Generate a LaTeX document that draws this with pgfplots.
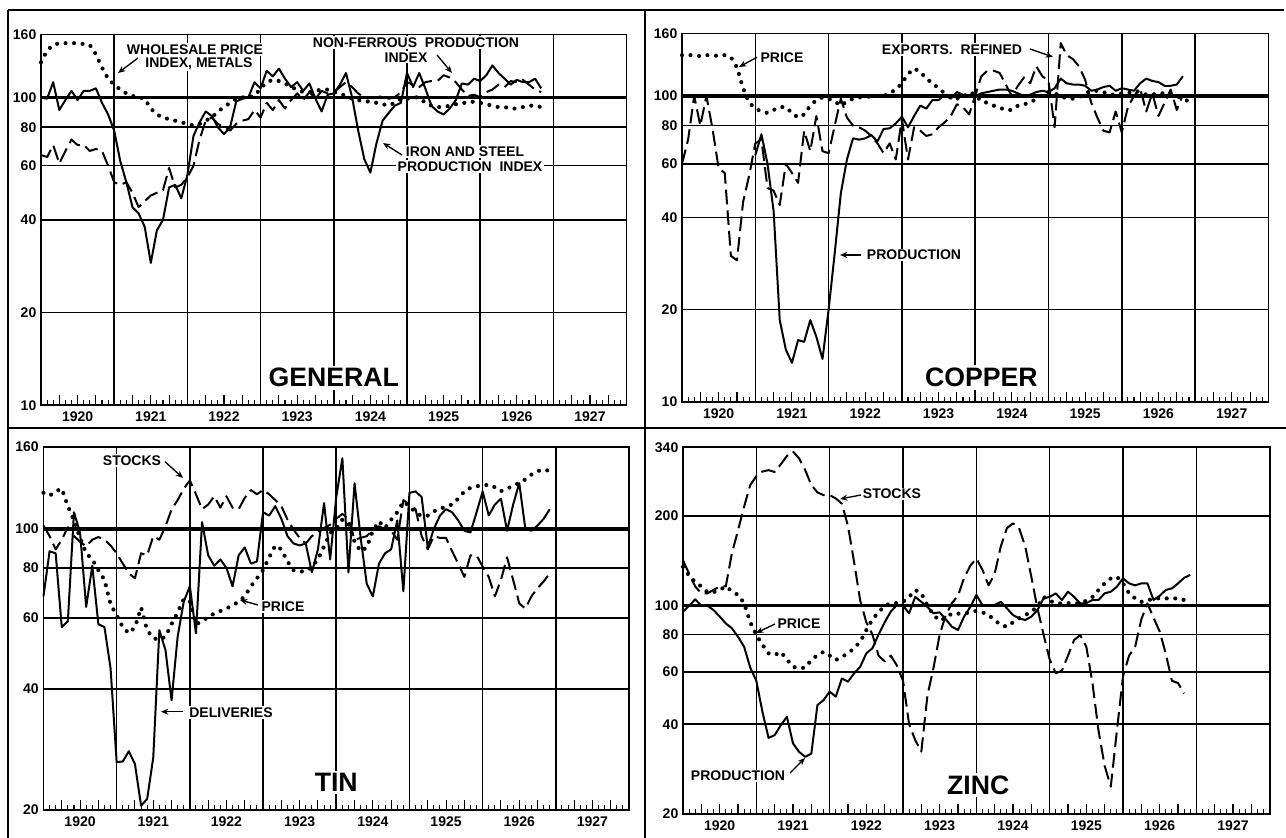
\documentclass[border=0pt]{standalone}
\usepackage{fontspec}
\setmainfont{Liberation Sans}
\usepackage{pgfplots}
\pgfplotsset{compat=1.18}
\usepackage{pgfplotstable}
\usetikzlibrary{arrows.meta}

% month index m: 0 = Jan 1920
\pgfplotstableread{
m iron nonf price
0 100 65 130
1 99 64 142
2 112 70 148
3 91 61 150
4 98 67 150
5 105 73 150
6 98 70 150
7 105 70 149
8 105 67 148
9 107 68 138
10 96 67 125
11 88 60 115
12 78 53 110
13 62 52 106
14 53 53 103
15 44 49 101
16 42 44 100
17 38 46 99
18 29 48 92
19 37 49 88
20 40 50 86
21 51 59 85
22 52 51 84
23 47 52 83
24 56 55 82
25 75 60 81
26 83 73 82
27 90 84 84
28 87 86 86
29 80 82 90
30 76 80 93
31 80 78 96
32 97 82 99
33 99 84 100
34 100 85 100
35 112 91 101
36 107 86 107
37 122 96 112
38 117 91 114
39 124 98 113
40 115 92 111
41 108 98 108
42 112 103 106
43 105 98 104
44 111 104 104
45 99 99 105
46 90 105 106
47 102 103 106
48 103 104 104
49 110 108 103
50 120 112 101
51 100 108 99
52 78 103 98
53 63 100 97
54 57 100 97
55 71 100 96
56 84 101 95
57 89 99 94
58 94 100 96
59 96 104 99
60 120 112 99
61 108 110 100
62 120 108 100
63 107 112 96
64 94 113 94
65 90 113 93
66 88 118 93
67 92 116 94
68 98 112 95
69 111 106 96
70 110 101 96
71 115 102 97
72 113 100 96
73 118 104 95
74 127 106 94
75 120 110 93
76 115 108 93
77 110 113 92
78 114 112 92
79 112 114 93
80 112 110 94
81 115 106 94
82 107 104 93
83 nan nan 92
}\general

\pgfplotstableread{
m prod exp price
0 nan 60 136
1 nan 72 136
2 nan 100 136
3 nan 80 135
4 nan 100 136
5 nan 78 136
6 nan 58 135
7 nan 56 136
8 nan 30 134
9 nan 29 124
10 nan 45 106
11 nan 55 95
12 64 70 91
13 75 72 89
14 60 50 88
15 42 49 90
16 18.5 44 92
17 14.8 60 92
18 13.4 56 88
19 15.9 52 85
20 15.7 77 87
21 18.5 66 93
22 16.3 86 97
23 13.8 66 99
24 20 65 98
25 30.6 80 96
26 48 98 93
27 62 85 96
28 72.7 80 98
29 72 79 99
30 72.7 77 99.5
31 74.5 74 99.5
32 71 70 100
33 78 65 100
34 78.4 70 102
35 81.3 62 105
36 85.6 84 110
37 79 62 118
38 86 79 123
39 93 77 120
40 91 74 114
41 97 75 110
42 97 79 106
43 101 82 102
44 98 86 99
45 103 94 98
46 101 92 99
47 100 87 103
48 100 100 101
49 102 116 96
50 103 121 95
51 104 121 93
52 105 119 91.6
53 105 109 90
54 104 100 90
55 102 108 93
56 100 115 94
57 101 110 95
58 103 125 98
59 104 116 101
60 103 112 103
61 106 79 102
62 114 149 100
63 110 136 98
64 109 132 98
65 109 125 99
66 108 113 102
67 104 95 104
68 105 85 104
69 107 77 103
70 108 76 101
71 104 89 101
72 106 76 102
73 105 92 102
74 104 100 104
75 110 106 103
76 114 89 101
77 112 102 101
78 111 86 102
79 108 95 102
80 108 105 101
81 109 90 100
82 116 101 98
83 nan nan 96
}\copper

\pgfplotstableread{
m deliv stocks price
0 68 102 123
1 88 96 121
2 87 89 124
3 57 94 126
4 59 101 114
5 110 96 105
6 98 93 95
7 64 90.5 87
8 81 94 84
9 58 95.5 79
10 57 94 74.7
11 45 91 65
12 26.3 87 61
13 26.4 82 57
14 28 77.6 55
15 26 75.4 57
16 20.5 87 63.8
17 21.3 86 56
18 27 96 53.5
19 56 94 53
20 50 101.5 54
21 37.5 111.8 58
22 54 118 62
23 66 126 67
24 72 132 66
25 55 122 58
26 104 112 58.8
27 86 115 60.5
28 81 120.6 61.6
29 84 113 62.5
30 80 120.6 63.5
31 72 113 64.5
32 86 112 66
33 90 119.5 68
34 82 125 72
35 83 122 75.4
36 110 125 79
37 108 122 85
38 114 118 91
39 106 114 89
40 96 105.5 83
41 92 99.6 79
42 91 95 78.4
43 92 92 78.4
44 78 96 80.6
45 89 98 84
46 116 100.6 90.5
47 84 102.5 97.7
48 120 106 100
49 150 109 105.5
50 78 106 103
51 130 94 93
52 95 95 88
53 73 96 90
54 68 99.6 99
55 82 101.5 104.5
56 87 100 100.6
57 89 99 105.5
58 105 94 110
59 70 118 117
60 123 115 114
61 124 112 110
62 120 96 107.6
63 90 89 108
64 100 96 110.7
65 108 95 112
66 112 95 113.9
67 110 88 115
68 105 82 119
69 99 76 124
70 98 86 126.6
71 110 86 127.8
72 124 80.6 128
73 108 76 129
74 115 68 127
75 119 74.7 124.2
76 99 85 126
77 115 74.7 128
78 130 65.3 130.3
79 100 63.4 132.8
80 99 68 136.6
81 102 71.3 139.3
82 106 74 140.6
83 112 77.6 139.3
}\tin

\pgfplotstableread{
m prod stocks price
0 95.5 142 135
1 100 128 126
2 105 116 120
3 100 110 116
4 100 110 111
5 96.7 113 111
6 92 116 113
7 87.2 116 116
8 84 150 112
9 78.7 179 108.6
10 72.8 215 102
11 62 254 88
12 56 272 79.7
13 44 282 74
14 36 285 69.2
15 36.8 281 68.3
16 39.7 298 70
17 42.4 318 66
18 34.5 329 62.4
19 32.3 312 61.6
20 31.1 285 62
21 31.9 254 65.7
22 46.4 240 68.3
23 48.2 235 70
24 51.5 235 68
25 49.5 229 65.7
26 57 220 67.4
27 55.6 185 69.2
28 59.3 140 72
29 62.4 104 75.7
30 69.2 88 82.8
31 72 80 90
32 80 68 95
33 88 65 100
34 95.5 68 101.8
35 100.5 63 102
36 100 56 103
37 94.3 40 107
38 107 35.4 112.9
39 103 32.4 110
40 99 50 100
41 94.3 62 93
42 95 80 89
43 90 93 91
44 85 102 94.2
45 82.9 108 94
46 91.9 124 94.2
47 99 136 95
48 108.6 144 96
49 100.5 132 95
50 100.5 117 93
51 100.5 128 89.5
52 103 158 86.1
53 98 182 85
54 93 189 88
55 90.7 182 90.7
56 89.5 158 93
57 91.9 125 95.5
58 96.7 98 99.2
59 105.8 80 107
60 107 66 104
61 110 59.3 101.8
62 104.5 60.5 101.8
63 111.4 68 102
64 107 76.7 101.8
65 101.8 79.7 101.8
66 102 72.8 104
67 104.5 55 107
68 104.5 38 112.9
69 110 29 118.8
70 111.4 24.7 123.5
71 115.8 38 125
72 123.5 58 118.8
73 118.8 68 110
74 117 73 105.8
75 118.8 90 103
76 118.8 101.8 104
77 104.5 91 105.8
78 108 82 105.8
79 112.9 69 105.8
80 114.3 56 105.8
81 118.8 55 105.8
82 124 50.8 104.5
83 127 nan 101.8
}\zinc

\pgfplotsset{
  mpanel/.style={
    scale only axis, anchor=south west,
    xmin=0, xmax=96,
    axis line style={line width=1.3pt},
    xtick={3,6,9,15,18,21,27,30,33,39,42,45,51,54,57,63,66,69,75,78,81,87,90,93},
    xticklabels={,1920,,,1921,,,1922,,,1923,,,1924,,,1925,,,1926,,,1927,},
    minor xtick={0,1,...,96},
    xtick pos=left, tick align=inside,
    major tick length=7.5pt, minor tick length=3.8pt,
    every tick/.style={line width=0.8pt, black},
    extra x ticks={12,24,36,48,60,72,84},
    extra x tick labels={},
    extra x tick style={grid=major},
    ymajorgrids=true, yminorticks=false,
    major grid style={line width=1.2pt, black},
    ytick style={draw=none},
    tick label style={font=\fontsize{10.5}{10.5}\selectfont\bfseries},
    xticklabel style={yshift=-1.5pt},
    unbounded coords=jump,
    clip=false,
  },
  solidl/.style={black, line width=1.5pt, line join=round},
  dashl/.style={black, line width=1.5pt, line join=round, dash pattern=on 11pt off 4.5pt},
  dotl/.style={black, line width=3.1pt, line cap=round, dash pattern=on 0pt off 6.4pt},
  hundred/.style={black, line width=2.4pt, forget plot},
}
\tikzset{
  ttl/.style={fill=white, inner sep=2pt, font=\fontsize{20}{20}\selectfont\bfseries},
  lab/.style={fill=white, inner sep=1pt, align=center, font=\fontsize{10.5}{10.5}\selectfont\bfseries},
  arr/.style={line width=1pt, -{Stealth[length=5.5pt, width=4.5pt]}},
}

\begin{document}
\begin{tikzpicture}
\path[use as bounding box] (0pt,0pt) rectangle (964.5pt,628.5pt);

% GENERAL
\begin{axis}[mpanel, ymode=log, at={(30.75pt,324.5pt)}, width=439.2pt, height=278.1pt,
  ymin=10, ymax=160, ytick={10,20,40,60,80,100,160}, yticklabels={10,20,40,60,80,100,160}]
\addplot[hundred] coordinates {(0,100) (96,100)};
\addplot[dotl] table[x=m, y=price] {\general};
\addplot[dashl] table[x=m, y=nonf] {\general};
\addplot[solidl] table[x=m, y=iron] {\general};
\node[ttl] at (axis cs:48,12.3) {GENERAL};
\end{axis}

% COPPER
\begin{axis}[mpanel, ymode=log, at={(511.5pt,327.2pt)}, width=439.8pt, height=276.1pt,
  ymin=10, ymax=160, ytick={10,20,40,60,80,100,160}, yticklabels={10,20,40,60,80,100,160}]
\addplot[hundred] coordinates {(0,100) (96,100)};
\addplot[dotl] table[x=m, y=price] {\copper};
\addplot[dashl] table[x=m, y=exp] {\copper};
\addplot[solidl] table[x=m, y=prod] {\copper};
\node[ttl] at (axis cs:49,12.0) {COPPER};
\end{axis}

% TIN
\begin{axis}[mpanel, ymode=log, at={(32.6pt,21pt)}, width=439.2pt, height=272.3pt,
  ymin=20, ymax=160, ytick={20,40,60,80,100,160}, yticklabels={20,40,60,80,100,160}]
\addplot[hundred] coordinates {(0,100) (96,100)};
\addplot[dotl] table[x=m, y=price] {\tin};
\addplot[dashl] table[x=m, y=stocks] {\tin};
\addplot[solidl] table[x=m, y=deliv] {\tin};
\node[ttl] at (axis cs:48,23.4) {TIN};
\end{axis}

% ZINC
\begin{axis}[mpanel, ymode=log, at={(512.25pt,18pt)}, width=440pt, height=275pt,
  ymin=20, ymax=340, ytick={20,40,60,80,100,200,340}, yticklabels={20,40,60,80,100,200,340}]
\addplot[hundred] coordinates {(0,100) (96,100)};
\addplot[dotl] table[x=m, y=price] {\zinc};
\addplot[dashl] table[x=m, y=stocks] {\zinc};
\addplot[solidl] table[x=m, y=prod] {\zinc};
\node[ttl] at (axis cs:48.3,25) {ZINC};
\end{axis}

\begin{scope}[x=0.75pt, y=0.75pt]
% frame lines
\draw[line width=1.6pt] (8,828) -- (1284,828);
\draw[line width=1.2pt] (8,828) -- (8,0);
\draw[line width=1.2pt] (645,828) -- (645,0);
\draw[line width=1.6pt] (8,410) -- (1286,410);

% annotations (image pixel positions, y measured from the top)
\node[lab] at (195,838-49.3) {WHOLESALE PRICE};
\node[lab] at (199,838-63.3) {INDEX, METALS};
\draw[arr] (138,838-58) -- (118,838-73);
\node[lab] at (416,838-42.7) {NON-FERROUS\ \ PRODUCTION};
\node[lab] at (406,838-57.3) {INDEX};
\draw[arr] (437,838-55) -- (452,838-73);
\node[lab] at (465,838-151.7) {IRON AND STEEL};
\node[lab] at (470,838-166.7) {PRODUCTION\ \ INDEX};
\draw[arr] (402,838-155) -- (383,838-143);

\node[lab] at (782,838-57.3) {PRICE};
\draw[arr] (757,838-57.3) -- (739,838-67);
\node[lab] at (952,838-49.3) {EXPORTS.\ \ REFINED};
\draw[arr] (1030,838-49) -- (1053,838-57);
\node[lab] at (914,838-255) {PRODUCTION};
\draw[arr] (861,838-255) -- (840,838-255);

\node[lab] at (132,838-460.7) {STOCKS};
\draw[arr] (165,838-461.7) -- (183,838-478);
\node[lab] at (283,838-606.7) {PRICE};
\draw[arr] (258,838-605) -- (240,838-600);
\node[lab] at (231,838-712.7) {DELIVERIES};
\draw[arr] (183,838-711.7) -- (161,838-711.7);

\node[lab] at (892,838-494) {STOCKS};
\draw[arr] (861,838-495) -- (840,838-499);
\node[lab] at (799,838-624) {PRICE};
\draw[arr] (775,838-624) -- (756,838-633);
\node[lab] at (738,838-776) {PRODUCTION};
\draw[arr] (790,838-773) -- (805,838-758);
\end{scope}
\end{tikzpicture}
\end{document}
